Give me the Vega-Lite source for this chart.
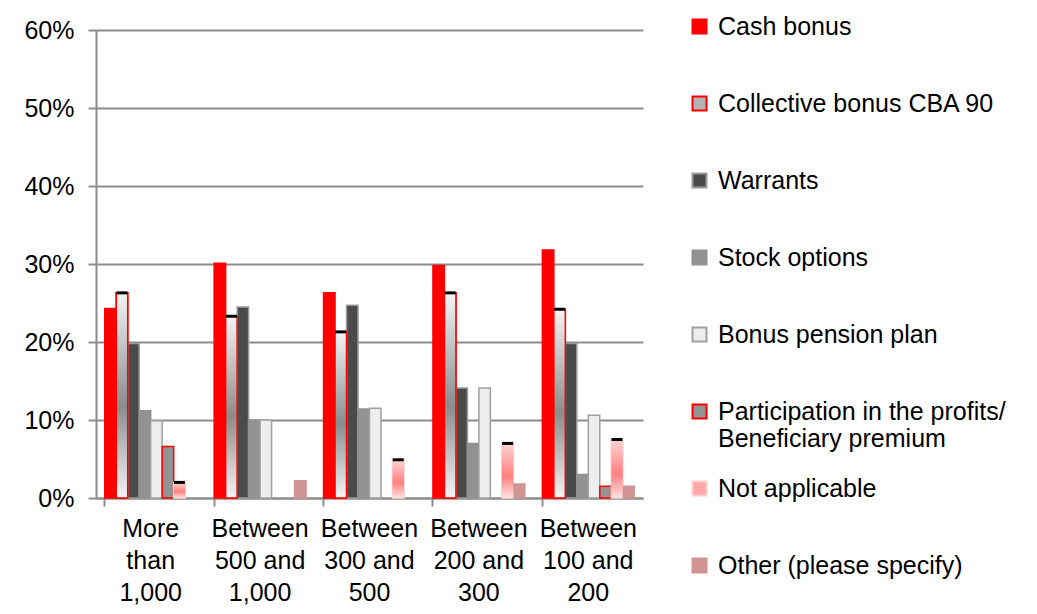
{
  "$schema": "https://vega.github.io/schema/vega-lite/v6.json",
  "autosize": "none",
  "width": 547,
  "height": 468,
  "padding": {"left": 96, "top": 30, "right": 394, "bottom": 116},
  "background": "white",
  "config": {
    "view": {"stroke": null},
    "font": "Liberation Sans",
    "axis": {"labelFont": "Liberation Sans", "labelColor": "black", "labelFontSize": 25, "domainColor": "#8c8c8c", "tickColor": "#8c8c8c", "gridColor": "#8c8c8c", "domainWidth": 2, "tickWidth": 2, "gridWidth": 2},
    "legend": {"labelFont": "Liberation Sans", "labelFontSize": 25, "labelColor": "black"}
  },
  "data": {
    "values": [
      {"size": "More than 1,000", "series": "Cash bonus", "pct": 24.3},
      {"size": "More than 1,000", "series": "Collective bonus CBA 90", "pct": 26.3},
      {"size": "More than 1,000", "series": "Warrants", "pct": 19.8},
      {"size": "More than 1,000", "series": "Stock options", "pct": 11.2},
      {"size": "More than 1,000", "series": "Bonus pension plan", "pct": 9.9},
      {"size": "More than 1,000", "series": "Participation in the profits/ Beneficiary premium", "pct": 6.6},
      {"size": "More than 1,000", "series": "Not applicable", "pct": 2.0},
      {"size": "Between 500 and 1,000", "series": "Cash bonus", "pct": 30.1},
      {"size": "Between 500 and 1,000", "series": "Collective bonus CBA 90", "pct": 23.3},
      {"size": "Between 500 and 1,000", "series": "Warrants", "pct": 24.5},
      {"size": "Between 500 and 1,000", "series": "Stock options", "pct": 10.0},
      {"size": "Between 500 and 1,000", "series": "Bonus pension plan", "pct": 10.0},
      {"size": "Between 500 and 1,000", "series": "Other (please specify)", "pct": 2.2},
      {"size": "Between 300 and 500", "series": "Cash bonus", "pct": 26.3},
      {"size": "Between 300 and 500", "series": "Collective bonus CBA 90", "pct": 21.3},
      {"size": "Between 300 and 500", "series": "Warrants", "pct": 24.7},
      {"size": "Between 300 and 500", "series": "Stock options", "pct": 11.4},
      {"size": "Between 300 and 500", "series": "Bonus pension plan", "pct": 11.5},
      {"size": "Between 300 and 500", "series": "Not applicable", "pct": 4.9},
      {"size": "Between 200 and 300", "series": "Cash bonus", "pct": 29.8},
      {"size": "Between 200 and 300", "series": "Collective bonus CBA 90", "pct": 26.3},
      {"size": "Between 200 and 300", "series": "Warrants", "pct": 14.1},
      {"size": "Between 200 and 300", "series": "Stock options", "pct": 7.0},
      {"size": "Between 200 and 300", "series": "Bonus pension plan", "pct": 14.1},
      {"size": "Between 200 and 300", "series": "Not applicable", "pct": 7.0},
      {"size": "Between 200 and 300", "series": "Other (please specify)", "pct": 1.8},
      {"size": "Between 100 and 200", "series": "Cash bonus", "pct": 31.8},
      {"size": "Between 100 and 200", "series": "Collective bonus CBA 90", "pct": 24.2},
      {"size": "Between 100 and 200", "series": "Warrants", "pct": 19.8},
      {"size": "Between 100 and 200", "series": "Stock options", "pct": 3.0},
      {"size": "Between 100 and 200", "series": "Bonus pension plan", "pct": 10.6},
      {"size": "Between 100 and 200", "series": "Participation in the profits/ Beneficiary premium", "pct": 1.5},
      {"size": "Between 100 and 200", "series": "Not applicable", "pct": 7.5},
      {"size": "Between 100 and 200", "series": "Other (please specify)", "pct": 1.5}
    ]
  },
  "encoding": {
    "x": {
      "field": "size", "type": "nominal", "title": null,
      "sort": ["More than 1,000", "Between 500 and 1,000", "Between 300 and 500", "Between 200 and 300", "Between 100 and 200"],
      "scale": {"paddingInner": 0.16, "paddingOuter": 0.08},
      "axis": {
        "labelAngle": 0, "bandPosition": 0, "tickSize": 8, "labelPadding": 10, "labelLineHeight": 32,
        "labelBaseline": "top", "labelLimit": 200,
        "labelExpr": "datum.label == 'More than 1,000' ? ['More', 'than', '1,000'] : [split(datum.label, ' ')[0], split(datum.label, ' ')[1] + ' and', split(datum.label, ' ')[3]]"
      }
    },
    "xOffset": {
      "field": "series", "type": "nominal",
      "scale": {"domain": ["Cash bonus", "Collective bonus CBA 90", "Warrants", "Stock options", "Bonus pension plan", "Participation in the profits/ Beneficiary premium", "Not applicable", "Other (please specify)"], "paddingInner": 0, "paddingOuter": 0}
    },
    "y": {
      "field": "pct", "type": "quantitative", "title": null,
      "scale": {"domain": [0, 60], "nice": false},
      "axis": {"values": [0, 10, 20, 30, 40, 50, 60], "labelExpr": "datum.value + '%'", "tickSize": 8, "labelPadding": 14, "grid": true}
    }
  },
  "layer": [
    {
      "mark": {"type": "bar", "strokeWidth": 1.5},
      "encoding": {
        "fill": {
          "field": "series", "type": "nominal", "title": null,
          "scale": {
            "domain": ["Cash bonus", "Collective bonus CBA 90", "Warrants", "Stock options", "Bonus pension plan", "Participation in the profits/ Beneficiary premium", "Not applicable", "Other (please specify)"],
            "range": ["#FF0000", "#B4B4B4", "#4A4A4A", "#929292", "#EDEDED", "#939393", "#FFA8A8", "#D09494"]
          },
          "legend": {
            "orient": "none", "legendX": 591, "legendY": -16, "padding": 0,
            "symbolType": "M-1,-1H1V1H-1Z M0,8.58", "symbolSize": 196, "symbolStrokeWidth": 2, "labelOffset": 6,
            "rowPadding": 0, "labelLimit": 400, "labelBaseline": "middle",
            "labelExpr": "datum.label == 'Participation in the profits/ Beneficiary premium' ? ['Participation in the profits/', 'Beneficiary premium'] : datum.label"
          }
        },
        "stroke": {
          "field": "series", "type": "nominal",
          "scale": {
            "domain": ["Cash bonus", "Collective bonus CBA 90", "Warrants", "Stock options", "Bonus pension plan", "Participation in the profits/ Beneficiary premium", "Not applicable", "Other (please specify)"],
            "range": ["#FF0000", "#FF0000", "#9A9A9A", "#929292", "#A0A0A0", "#FF0000", "#FFCCCC", "#D09494"]
          },
          "legend": null
        }
      }
    },
    {
      "transform": [{"filter": "datum.series == 'Collective bonus CBA 90'"}],
      "mark": {
        "type": "bar", "stroke": "#FF0000", "strokeWidth": 1.5,
        "fill": {"gradient": "linear", "x1": 0, "y1": 0, "x2": 0, "y2": 1, "stops": [{"offset": 0, "color": "#F4F4F4"}, {"offset": 0.55, "color": "#8C8C8C"}, {"offset": 1, "color": "#F4F4F4"}]}
      }
    },
    {
      "transform": [{"filter": "datum.series == 'Not applicable'"}],
      "mark": {
        "type": "bar", "strokeWidth": 0,
        "fill": {"gradient": "linear", "x1": 0, "y1": 0, "x2": 0, "y2": 1, "stops": [{"offset": 0, "color": "#FFD4D4"}, {"offset": 0.6, "color": "#FF8080"}, {"offset": 1, "color": "#FFE2E2"}]}
      }
    },
    {
      "transform": [{"filter": "datum.series == 'Collective bonus CBA 90' || datum.series == 'Not applicable'"}],
      "mark": {"type": "tick", "color": "black", "thickness": 3, "size": 11, "opacity": 1}
    }
  ]
}
